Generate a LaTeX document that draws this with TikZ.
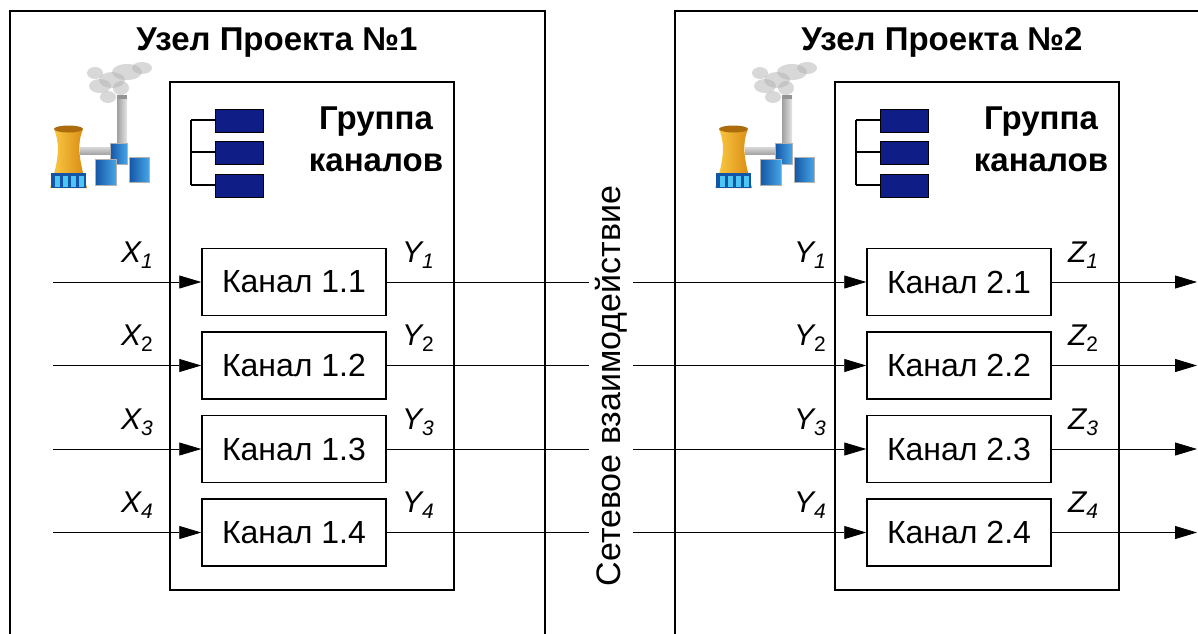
\documentclass[tikz,border=0pt]{standalone}
\usepackage{fontspec}
\setmainfont{Liberation Sans}
\usetikzlibrary{arrows.meta}

\definecolor{navy}{RGB}{15,30,135}
\definecolor{chipblue}{RGB}{45,95,225}
\definecolor{towerlight}{RGB}{252,205,70}
\definecolor{towerdark}{RGB}{215,135,15}
\definecolor{blockdark}{RGB}{20,85,165}
\definecolor{blocklight}{RGB}{70,165,230}

% index below a signal name
\newcommand{\idx}[1]{\raisebox{-6pt}{\fontsize{21}{24}\selectfont#1}}

\begin{document}
\begin{tikzpicture}[x=1pt,y=1pt,yscale=-1,
    frame/.style={line width=1.5pt},
    kanal/.style={draw,line width=1.5pt,minimum width=184pt,minimum height=67pt,inner sep=0pt,font=\fontsize{32}{38}\selectfont},
    sig/.style={line width=0.8pt,-{Triangle[length=22pt,width=13pt]}},
    lbl/.style={anchor=base,font=\fontsize{30}{34}\selectfont\itshape},
    hdr/.style={font=\fontsize{33}{42}\selectfont\bfseries},
    chip/.style={draw=black,line width=0.8pt,left color=navy,middle color=chipblue,right color=navy},
    block/.style={draw=gray!60,line width=0.5pt,left color=blockdark,right color=blocklight}]
    \useasboundingbox (0,0) rectangle (1198,633);
    \clip (0,0) rectangle (1198,633);

    \foreach \p/\dx in {1/0,2/665}{
    \begin{scope}[xshift=\dx pt]
        %Shape: outer frame, open at the bottom
        \draw[frame] (10,645) -- (10,11) -- (545,11) -- (545,645);
        % Text Node
        \node[hdr,anchor=base] (title\p) at (277,50) {Узел Проекта №\p};

        %Shape: factory icon (smoke, chimney, tower, blocks)
        \foreach \sx/\sy/\rx/\ry in {121/88/8/7,112/80/13/8,100/86/11/7,127/72/15/8,142/68/10/6,95/73/8/6,108/97/8/6}
            \fill[gray!60,opacity=0.5] (\sx,\sy) ellipse ({\rx} and {\ry});
        \shade[left color=gray!75,right color=gray!20] (117,95) rectangle (127,160);
        \fill[gray!85] (117,95) rectangle (127,99);
        \shade[top color=gray!30,bottom color=gray!70] (80,147) rectangle (112,154);
        \shade[left color=towerlight,right color=towerdark]
            (54,129) .. controls (61,146) and (58,162) .. (50,188) -- (87,188) .. controls (80,162) and (76,146) .. (83,129) -- cycle;
        \fill[towerdark!80!black] (68.5,129) ellipse (14.5 and 3.5);
        \fill[blockdark] (50.8,173) rectangle (86.2,188);
        \foreach \wx in {55,63,71,79}
            \fill[cyan!70] (\wx,176) rectangle (\wx+5,187);
        \shade[block] (110,143) rectangle (127,164);
        \shade[block] (95,159) rectangle (116,185);
        \shade[block] (129,157) rectangle (149,182);

        %Shape: inner frame (channel group)
        \draw[frame] (170,82) rectangle (454,590);
        % Text Node
        \node[hdr,align=center] (group\p) at (376,139) {Группа\\каналов};

        %Shape: group icon
        \draw[line width=1.2pt] (191,120) -- (191,185);
        \foreach \cy in {120,152,185}
            \draw[line width=1.2pt] (191,\cy) -- (215,\cy);
        \foreach \cy in {109,141,174}
            \shade[chip] (215,\cy) rectangle (263,\cy+23);

        % channels
        \foreach \i/\ry in {1/282,2/365.5,3/449,4/532.5}
            \node[kanal] (ch\p-\i) at (294,\ry) {Канал \p.\i};
    \end{scope}
    }

    % signals X -> channel 1.i -> channel 2.i -> Z
    \foreach \i/\ry/\sh in {1/282/\itshape,2/365.5/\upshape,3/449/\itshape,4/532.5/\itshape}{
        \coordinate (in\i) at (53,\ry);
        \coordinate (out\i) at (1197,\ry);
        \draw[sig] (in\i) -- (ch1-\i);
        \draw[sig] (ch1-\i) -- (ch2-\i);
        \draw[sig] (ch2-\i) -- (out\i);
        % Text Node
        \node[lbl] (x\i) at (137,\ry-20) {X\idx{\sh\i}};
        \node[lbl] (ya\i) at (418,\ry-20) {Y\idx{\sh\i}};
        \node[lbl] (yb\i) at (810,\ry-20) {Y\idx{\sh\i}};
        \node[lbl] (z\i) at (1083,\ry-20) {Z\idx{\sh\i}};
    }

    % Text Node
    \node[rotate=90,fill=white,inner xsep=0pt,inner ysep=6pt,font=\fontsize{34}{40}\selectfont] (net) at (611,386) {Сетевое взаимодействие};

\end{tikzpicture}
\end{document}
